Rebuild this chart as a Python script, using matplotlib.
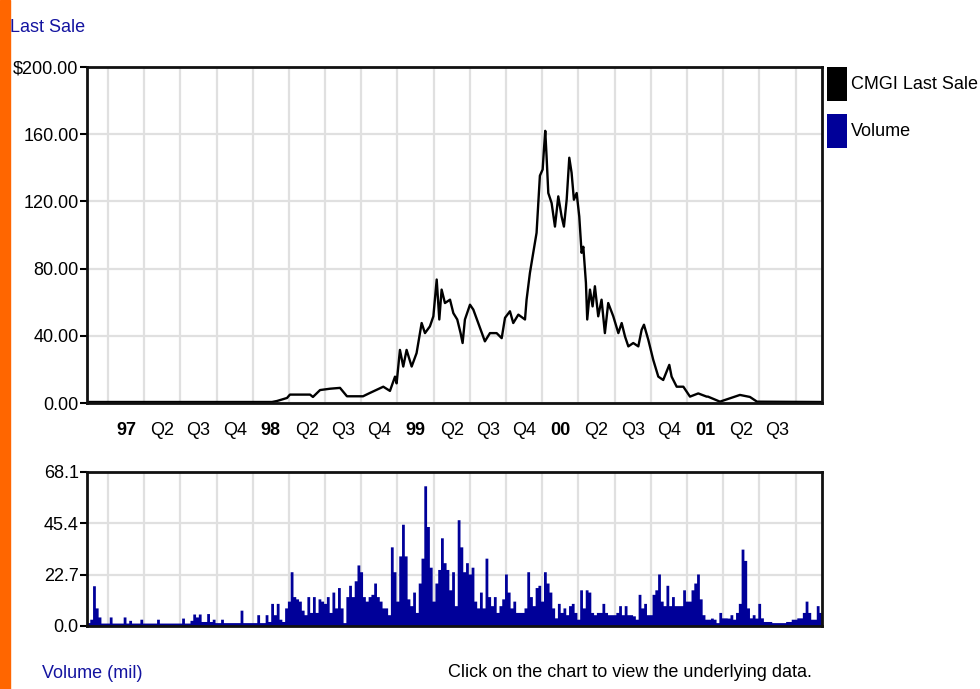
import numpy as np
import matplotlib
matplotlib.use("Agg")
import matplotlib.pyplot as plt
from matplotlib import font_manager
from matplotlib.patches import Patch, Rectangle
from matplotlib.ticker import FixedLocator, FuncFormatter

# --- values ---
# last sale, decimal years / dollars
price_t = [1996.855, 1998.133, 1998.168, 1998.237, 1998.257, 1998.396, 1998.416,
           1998.465, 1998.534, 1998.603, 1998.651, 1998.762, 1998.810, 1998.902,
           1998.948, 1998.983, 1998.994, 1999.017, 1999.040, 1999.063, 1999.098,
           1999.132, 1999.167, 1999.190, 1999.224, 1999.248, 1999.271, 1999.289,
           1999.305, 1999.328, 1999.363, 1999.386, 1999.413, 1999.436, 1999.450,
           1999.466, 1999.501, 1999.524, 1999.558, 1999.604, 1999.639, 1999.685,
           1999.720, 1999.743, 1999.777, 1999.800, 1999.835, 1999.881, 1999.892,
           1999.915, 1999.938, 1999.961, 1999.984, 2000.003, 2000.012, 2000.021,
           2000.030, 2000.042, 2000.065, 2000.088, 2000.111, 2000.134, 2000.150,
           2000.169, 2000.187, 2000.203, 2000.219, 2000.238, 2000.256, 2000.272,
           2000.284, 2000.302, 2000.311, 2000.330, 2000.348, 2000.364, 2000.387,
           2000.410, 2000.433, 2000.456, 2000.491, 2000.526, 2000.549, 2000.572,
           2000.595, 2000.629, 2000.664, 2000.687, 2000.703, 2000.733, 2000.767,
           2000.802, 2000.836, 2000.878, 2000.894, 2000.929, 2000.975, 2001.021,
           2001.078, 2001.136, 2001.145, 2001.228, 2001.366, 2001.435, 2001.484,
           2001.933]
price_v = [0.6, 0.6, 1.2, 3.0, 5.0, 5.0, 3.6,
           7.7, 8.5, 9.0, 4.0, 4.0, 6.0, 9.7,
           7.2, 15.7, 11.7, 31.6, 21.7, 31.6, 21.7,
           29.7, 47.6, 41.6, 45.6, 51.6, 73.5, 49.7,
           67.5, 59.5, 61.5, 53.5, 49.7, 41.6, 35.7,
           49.7, 58.5, 55.6, 47.6, 36.7, 41.6, 41.6,
           38.6, 50.7, 54.6, 47.6, 52.6, 49.7, 61.5,
           77.4, 89.4, 101.3, 135.3, 139.0, 151.0, 162.0,
           147.0, 125.0, 119.0, 105.0, 123.0, 111.0, 105.0,
           121.0, 146.0, 137.0, 121.0, 125.0, 111.0, 89.4,
           93.0, 71.5, 49.7, 67.5, 57.5, 69.5, 51.6,
           61.5, 41.6, 59.5, 51.6, 41.6, 47.6, 39.6,
           33.7, 35.7, 33.7, 43.6, 46.6, 37.6, 25.7,
           15.7, 13.7, 22.7, 15.7, 9.7, 9.7, 3.8,
           5.7, 3.8, 3.8, 0.8, 4.8, 3.6, 0.8,
           0.6]

# weekly volume (millions), first week starting at vol_start
vol_start = 1996.855
volume = [1.5, 3, 17.8, 8, 4, 1.3, 1.3, 1.3, 4, 1.3,
          1.3, 1.3, 1.3, 4, 1.3, 2.5, 1.3, 1.3, 1.3, 3,
          1.3, 1.3, 1.3, 1.3, 1.3, 3, 1.3, 1.3, 1.3, 1.3,
          1.3, 1.3, 1.3, 1.3, 3.5, 1.3, 1.3, 2.5, 5.3, 4,
          5.3, 2, 2, 5.5, 2, 3, 1.5, 1.5, 3, 1.5,
          1.5, 1.5, 1.5, 1.5, 1.5, 7, 1.5, 1.5, 1.5, 1.5,
          1.5, 5, 1.5, 1.5, 5, 2, 10, 5, 10, 3,
          2, 8, 11, 24, 13, 12, 11, 7, 5, 13,
          6, 13, 6, 12, 11, 10, 13, 6, 15, 8,
          17, 8, 1.5, 13, 18, 13, 20, 27, 24, 13,
          11, 13, 14, 19, 13, 11, 8, 8, 5, 35,
          24, 11, 31, 45, 31, 12, 9, 15, 6, 19,
          30, 62, 44, 26, 11, 19, 25, 39, 28, 25,
          16, 24, 9, 47, 35, 24, 28, 23, 26, 11,
          8, 15, 8, 30, 13, 9, 13, 6, 9, 12,
          23, 15, 8, 11, 6, 6, 6, 8, 24, 13,
          9, 17, 18, 11, 24, 19, 15, 8, 3.6, 10,
          6, 8, 5, 9, 10, 6, 3, 16, 8, 16,
          15, 6, 5, 6, 6, 10, 6, 5, 5, 5,
          6, 9, 5, 9, 5, 5, 4.5, 3, 14, 8,
          10, 5, 5, 14, 16, 23, 11, 9, 18, 9,
          13, 9, 9, 9, 16, 11, 11, 16, 19, 23,
          12, 5, 3, 3, 3.5, 3, 1.5, 6, 3.6, 3.6,
          3.5, 5, 3, 6, 10, 34, 29, 8, 3.6, 5,
          3.5, 10, 3.6, 2, 2, 2, 1.5, 1.5, 1.5, 1.5,
          1.5, 2, 2, 3, 3, 3.6, 3.6, 6, 11, 6,
          3, 3, 9, 6, 9]

first_quarter = 1997.0
quarter_labels = ["97", "Q2", "Q3", "Q4", "98", "Q2", "Q3", "Q4", "99", "Q2",
                  "Q3", "Q4", "00", "Q2", "Q3", "Q4", "01", "Q2", "Q3"]
price_ticks = [0, 40, 80, 120, 160, 200]
vol_ticks = [0.0, 22.7, 45.4, 68.1]
x_range = (1996.855, 2001.933)

BLUE = "#000099"
LABEL_BLUE = "#1414a0"
GRID = "#e0e0e0"

# pick a narrow face if there is one, otherwise plain Liberation Sans
names = {f.name for f in font_manager.fontManager.ttflist}
if "Liberation Sans Narrow" in names:
    FONT, FS = "Liberation Sans Narrow", 16
else:
    FONT, FS = "Liberation Sans", 13
plt.rcParams["font.family"] = [FONT, "DejaVu Sans"]
plt.rcParams["font.size"] = FS

W, H = 980, 689
fig = plt.figure(figsize=(W / 100, H / 100), dpi=100)

# orange strip on the left edge
fig.patches.append(Rectangle((0, 0), 10 / W, 1, transform=fig.transFigure,
                             color="#ff6600", zorder=0))

ax1 = fig.add_axes([87 / W, 1 - 403 / H, 735 / W, 336 / H])
ax2 = fig.add_axes([87 / W, 1 - 626 / H, 735 / W, 154 / H])

q_edges = first_quarter + 0.25 * np.arange(len(quarter_labels) + 1)
q_mids = first_quarter + 0.125 + 0.25 * np.arange(len(quarter_labels))

for ax in (ax1, ax2):
    ax.set_xlim(*x_range)
    ax.xaxis.set_major_locator(FixedLocator(q_edges))
    ax.set_axisbelow(True)
    ax.grid(True, which="major", color=GRID, lw=1.6)
    for sp in ax.spines.values():
        sp.set_linewidth(2)
        sp.set_color("#111111")
    ax.tick_params(axis="x", which="both", length=0, labelbottom=False)
    ax.tick_params(axis="y", length=5, width=1.5, pad=1, labelsize=FS)

# price panel
ax1.plot(price_t, price_v, color="black", lw=1.7)
ax1.set_ylim(0, 200)
ax1.set_yticks(price_ticks)
ax1.yaxis.set_major_formatter(
    FuncFormatter(lambda v, p: f"${v:.2f}" if v == 200 else f"{v:.2f}"))
ax1.xaxis.set_minor_locator(FixedLocator(q_mids))
ax1.set_xticklabels(quarter_labels, minor=True)
ax1.tick_params(axis="x", which="minor", labelbottom=True, pad=14, labelsize=FS)
for lab in ax1.get_xticklabels(minor=True):
    if not lab.get_text().startswith("Q"):
        lab.set_fontweight("bold")

# volume panel
vol_t = vol_start + np.arange(len(volume)) / 52
ax2.fill_between(vol_t, volume, step="post", color=BLUE, lw=0)
ax2.set_ylim(0, 68.1)
ax2.set_yticks(vol_ticks)
ax2.yaxis.set_major_formatter(FuncFormatter(lambda v, p: f"{v:.1f}"))

# legend to the right of the price panel
handles = [Patch(facecolor="black", edgecolor="none"),
           Patch(facecolor=BLUE, edgecolor="none")]
px = FS / 72 * 100
fig.legend(handles, ["CMGI Last Sale", "Volume"], loc="upper left",
           bbox_to_anchor=(827 / W, 1 - 67 / H), frameon=False,
           borderpad=0, borderaxespad=0, handlelength=20 / px,
           handleheight=2.52, handletextpad=4 / px, labelspacing=13 / px,
           fontsize=FS)

fig.text(10 / W, 1 - 32 / H, "Last Sale", color=LABEL_BLUE, va="baseline")
fig.text(42 / W, 1 - 678 / H, "Volume (mil)", color=LABEL_BLUE, va="baseline")
fig.text(630 / W, 1 - 677 / H, "Click on the chart to view the underlying data.",
         ha="center", va="baseline")

fig.savefig("out.png", dpi=100)
